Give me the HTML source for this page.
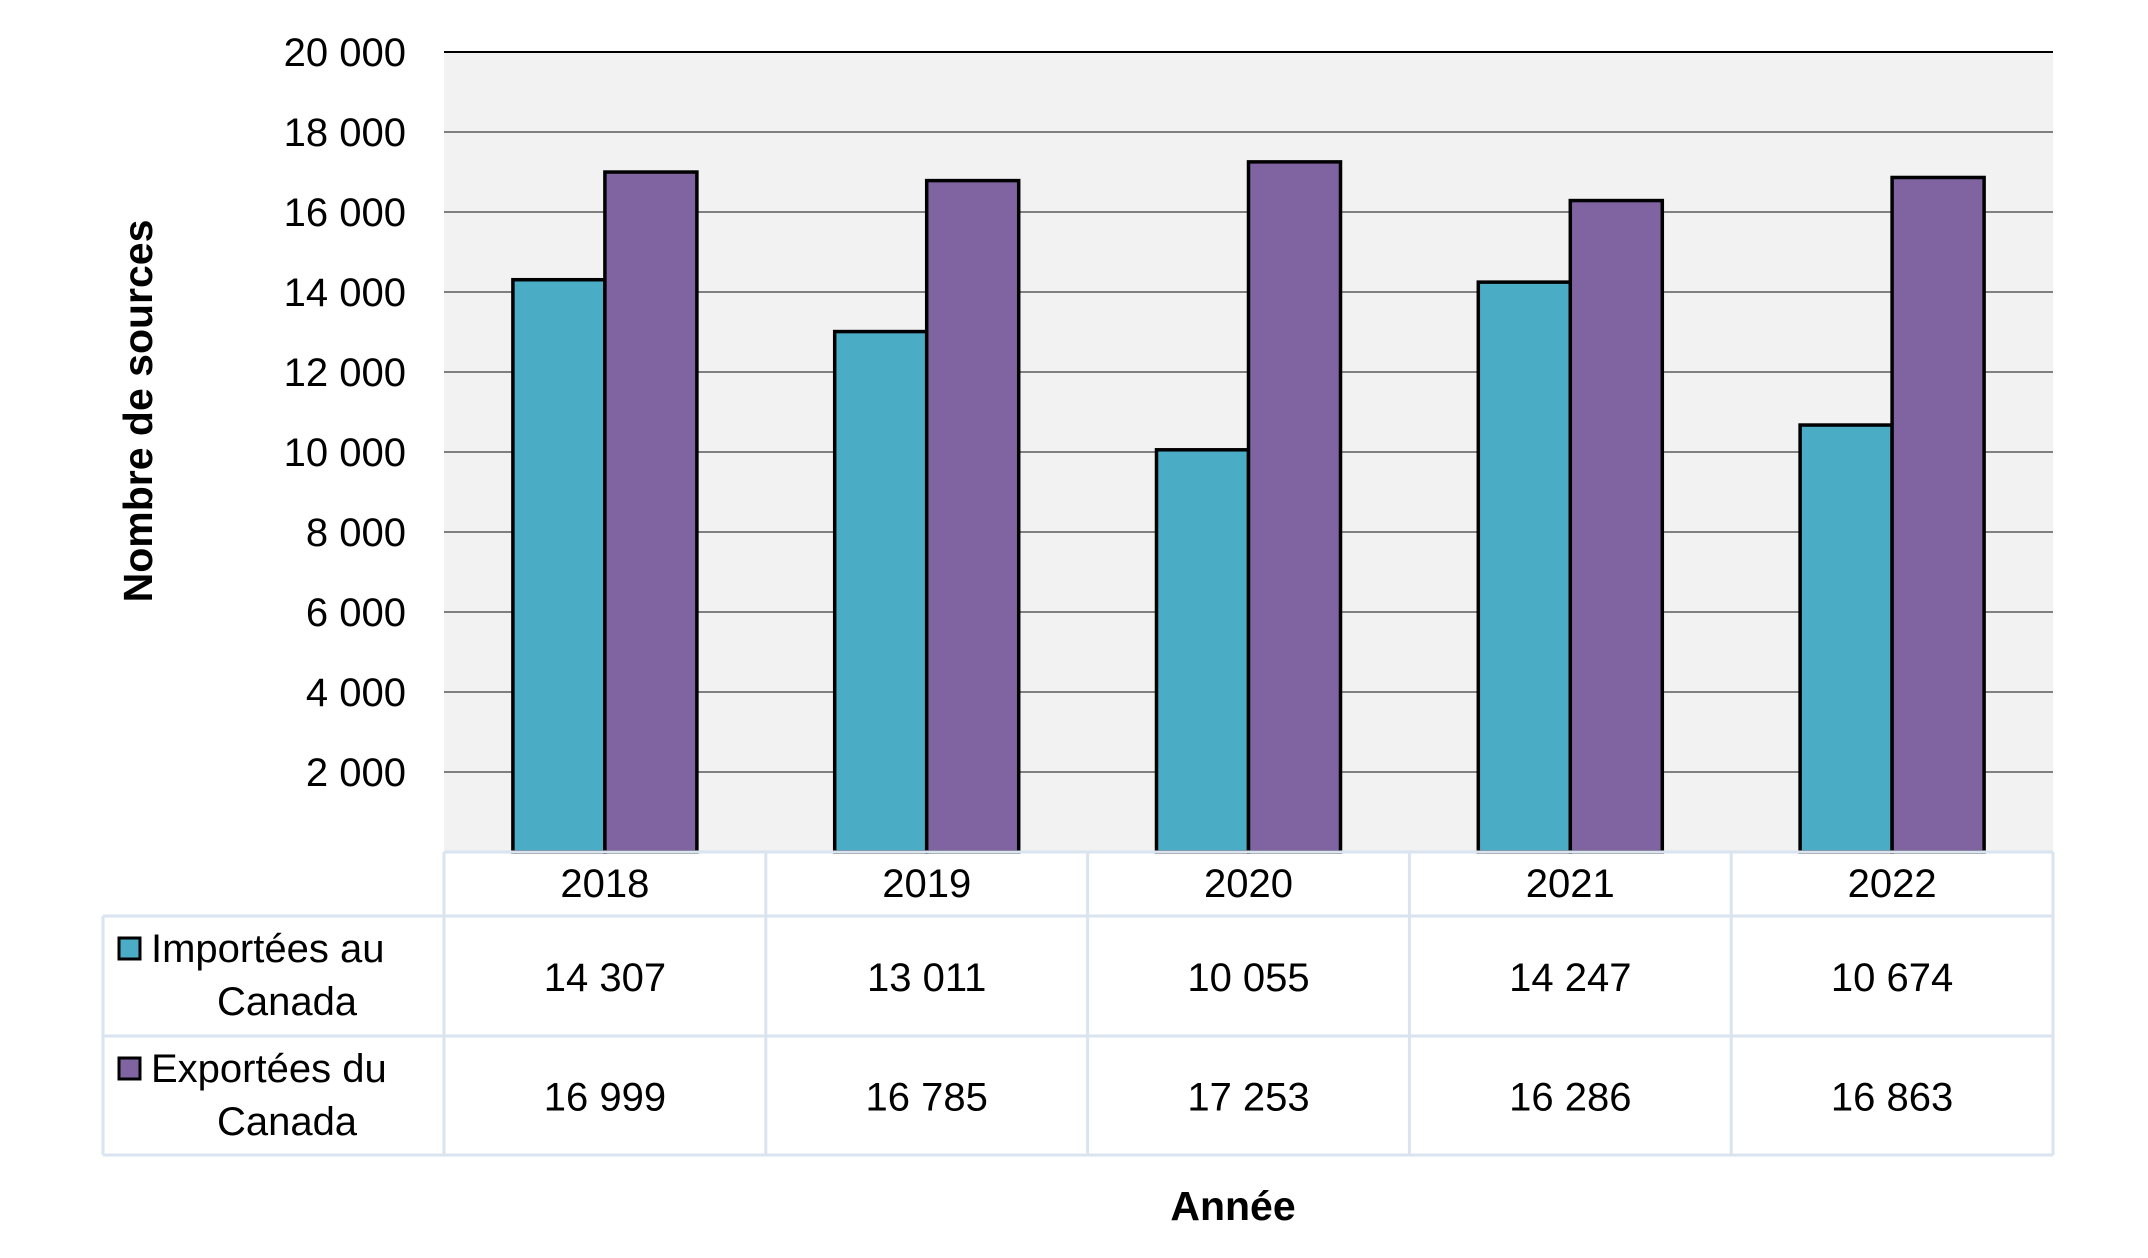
<!DOCTYPE html>
<html><head><meta charset="utf-8"><style>
html,body{margin:0;padding:0;background:#fff;}
svg{display:block;font-family:"Liberation Sans",Arial,sans-serif;}
</style></head><body>
<svg id="chart" width="2148" height="1258" viewBox="0 0 2148 1258" xmlns="http://www.w3.org/2000/svg">
<rect x="444" y="52" width="1609" height="800" fill="#f2f2f2"/>
<g id="grid"></g>
<g id="ylabels"></g>
<g id="bars"></g>
<g id="table"></g>
<text x="141" y="411" transform="rotate(-90 141 411)" text-anchor="middle" dominant-baseline="middle" font-size="41" font-weight="bold">Nombre de sources</text>
<text x="1233" y="1220" text-anchor="middle" font-size="41" font-weight="bold">Année</text>
</svg>
<script>
const categories = ["2018","2019","2020","2021","2022"];
const imports = [14307, 13011, 10055, 14247, 10674];
const exports = [16999, 16785, 17253, 16286, 16863];
const importLabels = ["14 307","13 011","10 055","14 247","10 674"];
const exportLabels = ["16 999","16 785","17 253","16 286","16 863"];
const yTicks = [2000,4000,6000,8000,10000,12000,14000,16000,18000,20000];
const yTickLabels = ["2 000","4 000","6 000","8 000","10 000","12 000","14 000","16 000","18 000","20 000"];

const NS="http://www.w3.org/2000/svg";
const X0=444, X1=2053, Y0=852, Y1=52, YMAX=20000;
const catW=(X1-X0)/categories.length;
const y=v=>Y0-(v/YMAX)*(Y0-Y1);
const cx=i=>X0+catW*(i+0.5);
function mk(tag,attrs,parent,txt){const e=document.createElementNS(NS,tag);for(const k in attrs)e.setAttribute(k,attrs[k]);if(txt!==undefined)e.textContent=txt;parent.appendChild(e);return e;}
const grid=document.getElementById('grid'),yl=document.getElementById('ylabels'),bars=document.getElementById('bars'),tbl=document.getElementById('table');
yTicks.forEach((t,i)=>{
  const l=mk('line',{x1:X0,x2:X1,y1:y(t),y2:y(t),stroke:t===YMAX?'#000':'#808080','stroke-width':2},grid);
  
  
  const tx=mk('text',{x:406,y:y(t)+14,'text-anchor':'end','font-size':40},yl,yTickLabels[i]);
  
  
});
const bw=92;
categories.forEach((c,i)=>{
  const r1=mk('rect',{x:cx(i)-bw,y:y(imports[i]),width:bw,height:Y0-y(imports[i]),fill:'#4bacc6',stroke:'#000','stroke-width':3.5},bars);
  
  
  const r2=mk('rect',{x:cx(i),y:y(exports[i]),width:bw,height:Y0-y(exports[i]),fill:'#8064a2',stroke:'#000','stroke-width':3.5},bars);
  
  
});
// table
const TL=103, R0=852, R1=916, R2=1036, R3=1155, bc='#dae3f0';
const lines=[[X0,R0,X1,R0],[TL,R1,X1,R1],[TL,R2,X1,R2],[TL,R3,X1,R3],[TL,R1,TL,R3]];
for(let k=0;k<=categories.length;k++)lines.push([X0+catW*k,R0,X0+catW*k,R3]);
lines.forEach(a=>{const l=mk('line',{x1:a[0],y1:a[1],x2:a[2],y2:a[3],stroke:bc,'stroke-width':3},tbl);
  
  });
categories.forEach((c,i)=>{
  const t=mk('text',{x:cx(i),y:R0+45,'text-anchor':'middle','font-size':40},tbl,c);
  
  
  const a=mk('text',{x:cx(i),y:(R1+R2)/2+15,'text-anchor':'middle','font-size':40},tbl,importLabels[i]);
  
  
  const b=mk('text',{x:cx(i),y:(R2+R3)/2+15,'text-anchor':'middle','font-size':40},tbl,exportLabels[i]);
  
  
});
[[R1,'#4bacc6','Importées au','imports'],[R2,'#8064a2','Exportées du','exports']].forEach(s=>{
  const sq=mk('rect',{x:119,y:s[0]+22,width:21,height:21,fill:s[1],stroke:'#000','stroke-width':3},tbl);
  
  
  const t1=mk('text',{x:151,y:s[0]+46,'font-size':40},tbl,s[2]);
  
  
  const t2=mk('text',{x:287,y:s[0]+99,'text-anchor':'middle','font-size':40},tbl,'Canada');
  
  
});
</script>
</body></html>
